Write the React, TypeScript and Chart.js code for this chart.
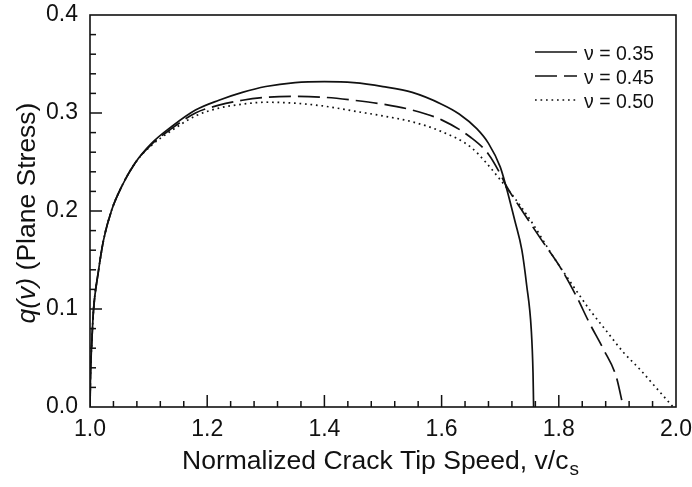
import React, { useEffect, useRef } from "react";
import { Chart, registerables } from "chart.js";

Chart.register(...registerables);

const FONT = "'Liberation Sans', Arial, Helvetica, sans-serif";
const INK = "#111";

// Legend labels
const seriesLabels = ["ν = 0.35", "ν = 0.45", "ν = 0.50"];

// Axis ticks
const xTickLabels = ["1.0", "1.2", "1.4", "1.6", "1.8", "2.0"];
const yTickLabels = ["0.0", "0.1", "0.2", "0.3", "0.4"];
const xMinorStep = 0.04;
const yMinorStep = 0.02;

// ν = 0.35 (solid)
const speed035 = [1.0, 1.001, 1.003, 1.006, 1.014, 1.023, 1.037, 1.054, 1.077, 1.105, 1.139, 1.18, 1.22, 1.26, 1.3, 1.35, 1.4, 1.45, 1.5, 1.55, 1.6, 1.63, 1.66, 1.68, 1.7, 1.71, 1.725, 1.737, 1.745, 1.753, 1.756, 1.757];
const q035 = [0, 0.035, 0.065, 0.099, 0.137, 0.17, 0.201, 0.225, 0.249, 0.269, 0.286, 0.303, 0.313, 0.321, 0.327, 0.331, 0.332, 0.331, 0.327, 0.321, 0.309, 0.299, 0.284, 0.269, 0.245, 0.225, 0.19, 0.16, 0.125, 0.079, 0.035, 0];

// ν = 0.45 (dashed)
const speed045 = [1.0, 1.001, 1.003, 1.006, 1.014, 1.023, 1.037, 1.054, 1.077, 1.105, 1.139, 1.18, 1.22, 1.26, 1.3, 1.35, 1.4, 1.45, 1.5, 1.55, 1.6, 1.65, 1.68, 1.7, 1.71, 1.74, 1.771, 1.802, 1.83, 1.852, 1.877, 1.898, 1.91];
const q045 = [0, 0.035, 0.065, 0.099, 0.137, 0.17, 0.201, 0.225, 0.249, 0.268, 0.284, 0.3, 0.308, 0.313, 0.316, 0.317, 0.316, 0.313, 0.309, 0.303, 0.293, 0.275, 0.258, 0.238, 0.226, 0.198, 0.17, 0.143, 0.113, 0.086, 0.058, 0.031, 0];

// ν = 0.50 (dotted)
const speed050 = [1.0, 1.001, 1.003, 1.006, 1.014, 1.023, 1.037, 1.054, 1.077, 1.105, 1.139, 1.18, 1.22, 1.26, 1.3, 1.35, 1.4, 1.45, 1.5, 1.55, 1.6, 1.65, 1.7, 1.75, 1.791, 1.825, 1.853, 1.882, 1.91, 1.939, 1.967, 1.995];
const q050 = [0, 0.035, 0.065, 0.099, 0.137, 0.17, 0.201, 0.225, 0.249, 0.267, 0.282, 0.297, 0.305, 0.309, 0.311, 0.31, 0.307, 0.302, 0.297, 0.291, 0.281, 0.265, 0.232, 0.192, 0.153, 0.123, 0.099, 0.077, 0.056, 0.038, 0.019, 0];

const toPoints = (xs: number[], ys: number[]) => xs.map((x, i) => ({ x, y: ys[i] }));

const framePlugin = {
  id: "frameTicksTitles",
  afterDraw(chart: any) {
    const { ctx, chartArea, scales } = chart;
    const xs = scales.x;
    const ys = scales.y;
    ctx.save();
    // inward ticks
    ctx.strokeStyle = INK;
    ctx.lineWidth = 1.5;
    const xMin = xs.min, xMax = xs.max;
    const nX = Math.round((xMax - xMin) / xMinorStep);
    for (let i = 1; i < nX; i++) {
      const v = xMin + i * xMinorStep;
      const px = xs.getPixelForValue(v);
      const major = i % 5 === 0;
      ctx.beginPath();
      ctx.moveTo(px, chartArea.bottom);
      ctx.lineTo(px, chartArea.bottom - (major ? 12 : 6));
      ctx.stroke();
    }
    const nY = Math.round((ys.max - ys.min) / yMinorStep);
    for (let i = 1; i < nY; i++) {
      const v = ys.min + i * yMinorStep;
      const py = ys.getPixelForValue(v);
      const major = i % 5 === 0;
      ctx.beginPath();
      ctx.moveTo(chartArea.left, py);
      ctx.lineTo(chartArea.left + (major ? 12 : 6), py);
      ctx.stroke();
    }
    // frame
    ctx.lineWidth = 1.6;
    ctx.strokeRect(chartArea.left, chartArea.top, chartArea.right - chartArea.left, chartArea.bottom - chartArea.top);

    // y title
    ctx.fillStyle = INK;
    ctx.textBaseline = "middle";
    ctx.textAlign = "left";
    const fs = 26.5;
    ctx.save();
    ctx.translate(28, 213);
    ctx.rotate(-Math.PI / 2);
    ctx.font = `italic ${fs}px ${FONT}`;
    const p1 = "q(v)";
    const w1 = ctx.measureText(p1).width;
    ctx.font = `${fs}px ${FONT}`;
    const p2 = " (Plane Stress)";
    const w2 = ctx.measureText(p2).width;
    const sx = -(w1 + w2) / 2;
    ctx.font = `italic ${fs}px ${FONT}`;
    ctx.fillText(p1, sx, 0);
    ctx.font = `${fs}px ${FONT}`;
    ctx.fillText(p2, sx + w1, 0);
    ctx.restore();

    // x title
    const t1 = "Normalized Crack Tip Speed, v/c";
    const t2 = "s";
    ctx.font = `${fs}px ${FONT}`;
    const tw1 = ctx.measureText(t1).width;
    ctx.font = `${Math.round(fs * 0.7)}px ${FONT}`;
    const tw2 = ctx.measureText(t2).width;
    const cx = 380;
    const x0 = cx - (tw1 + tw2) / 2;
    const ty = 462;
    ctx.font = `${fs}px ${FONT}`;
    ctx.fillText(t1, x0, ty);
    ctx.font = `${Math.round(fs * 0.7)}px ${FONT}`;
    ctx.fillText(t2, x0 + tw1 + 1, ty + 8);

    // legend
    ctx.font = `19.5px ${FONT}`;
    const lx0 = 535, lx1 = 577, tx = 584;
    const rows = [52, 76, 100];
    chart.data.datasets.forEach((ds: any, i: number) => {
      const y = rows[i];
      ctx.save();
      ctx.strokeStyle = ds.borderColor;
      ctx.lineWidth = ds.borderWidth;
      ctx.setLineDash(ds.borderDash || []);
      ctx.beginPath();
      ctx.moveTo(lx0, y);
      ctx.lineTo(lx1, y);
      ctx.stroke();
      ctx.restore();
      ctx.fillStyle = INK;
      ctx.fillText(ds.label, tx, y + 3);
    });
    ctx.restore();
  },
};

export default function App() {
  const ref = useRef<HTMLCanvasElement | null>(null);
  useEffect(() => {
    if (!ref.current) return;
    const chart = new Chart(ref.current, {
      type: "scatter",
      data: {
        datasets: [
          { label: seriesLabels[0], data: toPoints(speed035, q035), borderColor: INK, borderWidth: 1.7, borderDash: [], showLine: true, pointRadius: 0, cubicInterpolationMode: "monotone" } as any,
          { label: seriesLabels[1], data: toPoints(speed045, q045), borderColor: INK, borderWidth: 1.7, borderDash: [22, 7], showLine: true, pointRadius: 0, cubicInterpolationMode: "monotone" } as any,
          { label: seriesLabels[2], data: toPoints(speed050, q050), borderColor: INK, borderWidth: 1.7, borderDash: [1.7, 3.8], showLine: true, pointRadius: 0, cubicInterpolationMode: "monotone" } as any,
        ],
      },
      options: {
        animation: false,
        responsive: true,
        maintainAspectRatio: false,
        layout: { padding: { top: 15, right: 16, left: 0, bottom: 0 } },
        plugins: { legend: { display: false }, tooltip: { enabled: false } },
        scales: {
          x: {
            type: "linear",
            min: 1,
            max: 2,
            grid: { display: false, drawTicks: false },
            border: { display: false },
            ticks: {
              stepSize: 0.2,
              padding: 9,
              color: INK,
              font: { family: FONT, size: 23 },
              maxRotation: 0,
              callback: (v: any) => xTickLabels[Math.round((Number(v) - 1) / 0.2)] ?? "",
            },
            afterFit: (s: any) => { s.height = 80; s.paddingLeft = 0; s.paddingRight = 0; },
          },
          y: {
            type: "linear",
            min: 0,
            max: 0.4,
            grid: { display: false, drawTicks: false },
            border: { display: false },
            ticks: {
              stepSize: 0.1,
              padding: 12,
              color: INK,
              font: { family: FONT, size: 23 },
              callback: (v: any) => yTickLabels[Math.round(Number(v) / 0.1)] ?? "",
            },
            afterFit: (s: any) => { s.width = 90; s.paddingTop = 0; s.paddingBottom = 0; },
          },
        },
      },
      plugins: [framePlugin],
    });
    return () => chart.destroy();
  }, []);
  return (
    <div style={{ position: "fixed", left: 0, top: 0, width: 692, height: 487, background: "#fff" }}>
      <canvas ref={ref} />
    </div>
  );
}
